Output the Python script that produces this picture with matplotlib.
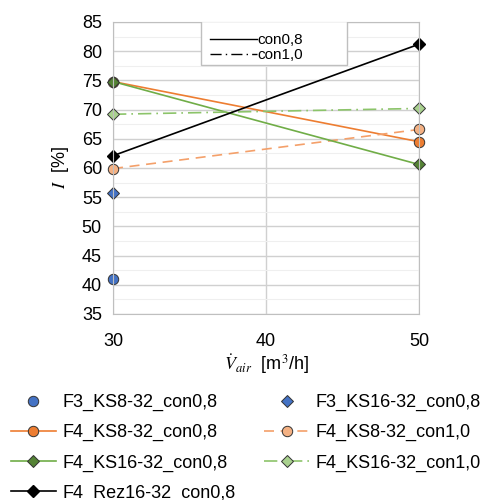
import matplotlib.pyplot as plt
from matplotlib.lines import Line2D
from matplotlib.patches import Rectangle
from matplotlib.ticker import MultipleLocator

plt.rcParams['font.family'] = ['Liberation Sans', 'DejaVu Sans']
plt.rcParams['mathtext.fontset'] = 'stix'

# data
x_one = [30]
x_two = [30, 50]
f3_ks8_08 = [41.0]
f3_ks16_08 = [55.8]
f4_ks8_08 = [74.8, 64.5]
f4_ks8_10 = [59.9, 66.6]
f4_ks16_08 = [74.8, 60.6]
f4_ks16_10 = [69.2, 70.2]
f4_rez16_08 = [62.1, 81.2]

labels = ["F3_KS8-32_con0,8", "F3_KS16-32_con0,8",
          "F4_KS8-32_con0,8", "F4_KS8-32_con1,0",
          "F4_KS16-32_con0,8", "F4_KS16-32_con1,0",
          "F4_Rez16-32_con0,8"]

fig = plt.figure(figsize=(4.85, 5.0), dpi=100)
ax = fig.add_axes([0.233, 0.372, 0.631, 0.584])

ec = "#333333"
dashdot = (0, (8, 3, 1, 3))
h1, = ax.plot(x_one, f3_ks8_08, 'o', color="#4472C4", mec=ec, mew=0.7, ms=7.5, label=labels[0])
h2, = ax.plot(x_one, f3_ks16_08, 'D', color="#4472C4", mec=ec, mew=0.7, ms=6, label=labels[1])
h3, = ax.plot(x_two, f4_ks8_08, '-o', color="#ED7D31", mfc="#ED7D31", mec=ec, mew=0.7,
              ms=7.5, lw=1.2, label=labels[2])
h4, = ax.plot(x_two, f4_ks8_10, linestyle=(0, (6, 4)), marker='o', color="#F4A06A",
              mfc="#F4B183", mec=ec, mew=0.7, ms=7.5, lw=1.2, label=labels[3])
h5, = ax.plot(x_two, f4_ks16_08, '-D', color="#70AD47", mfc="#548235", mec=ec, mew=0.7,
              ms=6, lw=1.2, label=labels[4])
h6, = ax.plot(x_two, f4_ks16_10, linestyle=dashdot, marker='D', color="#8CC46A",
              mfc="#A9D18E", mec=ec, mew=0.7, ms=6, lw=1.2, label=labels[5])
h7, = ax.plot(x_two, f4_rez16_08, '-D', color="black", mfc="black", mec="black",
              ms=6, lw=1.2, label=labels[6])

ax.set_xlim(30, 50)
ax.set_ylim(35, 85)
ax.xaxis.set_major_locator(MultipleLocator(10))
ax.yaxis.set_major_locator(MultipleLocator(5))
ax.yaxis.set_minor_locator(MultipleLocator(2.5))
ax.grid(which='major', color="#D0D0D0", lw=1.0)
ax.grid(which='minor', axis='y', color="#EFEFEF", lw=0.8)
ax.set_axisbelow(True)
for s in ax.spines.values():
    s.set_color("#BFBFBF")
ax.tick_params(which='both', length=0, labelsize=13)
ax.tick_params(axis='y', pad=8)
ax.tick_params(axis='x', pad=14)
for h in [h1, h2, h3, h4, h5, h6, h7]:
    h.set_clip_on(False)

ax.set_ylabel("$I$  [%]", fontsize=13, labelpad=8)
ax.set_xlabel(r"$\dot{V}_{air}$  [m$^3$/h]", fontsize=13, labelpad=1)

# inner style legend with a wide frame
box = Rectangle((0.288, 0.853), 0.477, 0.150, transform=ax.transAxes,
                facecolor="white", edgecolor="#BFBFBF", lw=1.0, zorder=5)
ax.add_patch(box)
style_handles = [Line2D([], [], color="black", lw=1.0),
                 Line2D([], [], color="black", lw=1.0, linestyle=dashdot)]
leg_in = ax.legend(style_handles, ["con0,8", "con1,0"], loc='upper left',
                   bbox_to_anchor=(0.282, 0.998), fontsize=11, handlelength=3.1,
                   handletextpad=0.0, labelspacing=0.05, borderpad=0.2,
                   frameon=False)
leg_in.set_zorder(6)

fig.legend([h1, h3, h5, h7, h2, h4, h6],
           [labels[0], labels[2], labels[4], labels[6], labels[1], labels[3], labels[5]],
           ncol=2, loc='upper left', bbox_to_anchor=(0.022, 0.212), frameon=False,
           fontsize=13, handlelength=2.5, handletextpad=0.35, columnspacing=1.6,
           labelspacing=0.72, borderpad=0.0, borderaxespad=0.0)

fig.savefig("out.png", dpi=100)
